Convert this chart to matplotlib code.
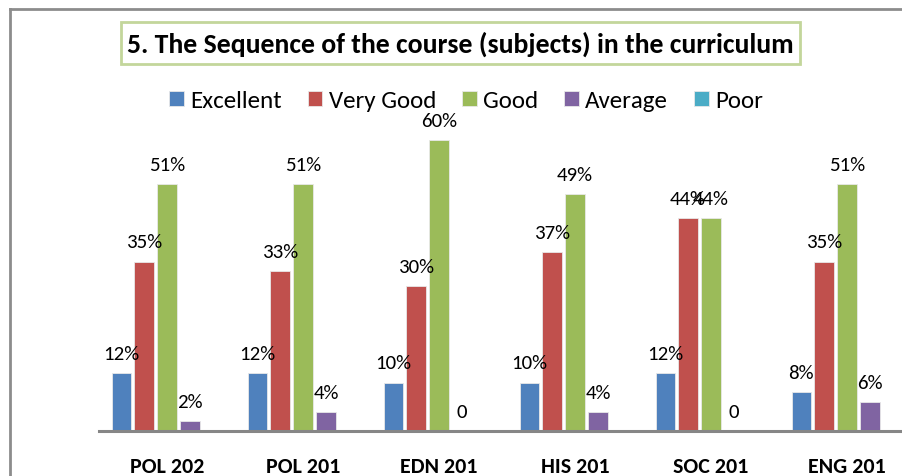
import matplotlib
matplotlib.use("Agg")
import matplotlib.pyplot as plt
from matplotlib.patches import Rectangle
import numpy as np

plt.rcParams['font.family'] = ['Carlito', 'DejaVu Sans']

courses = ["POL 202", "POL 201", "EDN 201", "HIS 201", "SOC 201", "ENG 201"]
series = ["Excellent", "Very Good", "Good", "Average", "Poor"]
excellent = [12, 12, 10, 10, 12, 8]
very_good = [35, 33, 30, 37, 44, 35]
good = [51, 51, 60, 49, 44, 51]
average = [2, 4, 0, 4, 0, 6]
poor = [0, 0, 0, 0, 0, 0]
colors = ["#4f81bd", "#c0504d", "#9bbb59", "#8064a2", "#4bacc6"]

W, H = 903, 477
fig = plt.figure(figsize=(W / 100, H / 100), dpi=100)

# plot area: left at 99 px, runs past the right edge (crop of a wider chart)
ax = fig.add_axes([99 / W, 45 / H, 816 / W, 339 / H])
x = np.arange(len(courses))
pitch = 0.169
width = 0.14
values = [excellent, very_good, good, average, poor]
for i, (name, vals, c) in enumerate(zip(series, values, colors)):
    xs = x + (i - 2) * pitch
    ax.bar(xs, vals, width, color=c, edgecolor="#e8e8e8", linewidth=0.6, label=name)
    if name == "Poor":
        continue
    for xi, v in zip(xs, vals):
        txt = f"{v}%" if v > 0 else "0"
        ax.annotate(txt, (xi, v), xytext=(0, 8), textcoords="offset points",
                    ha="center", va="bottom", fontsize=15, color="black")

ax.set_xlim(-0.5, len(courses) - 0.5)
ax.set_ylim(0, 70)
for s in ["top", "right", "left"]:
    ax.spines[s].set_visible(False)
ax.spines["bottom"].set_color("#868686")
ax.spines["bottom"].set_linewidth(2.2)
ax.set_yticks([])
ax.set_xticks(x)
ax.set_xticklabels(courses, fontweight="bold", fontsize=15.8)
ax.tick_params(axis="x", length=0, pad=18)

# legend
leg = fig.legend(loc="center", bbox_to_anchor=(466 / W, 1 - 102 / H), ncol=5,
                 frameon=False, fontsize=18, handlelength=0.58, handleheight=0.58,
                 handletextpad=0.25, columnspacing=1.05)

# title box
fig.patches.append(Rectangle((121 / W, 1 - 65 / H), 679 / W, 42 / H,
                             transform=fig.transFigure, facecolor="white",
                             edgecolor="#c3d69b", linewidth=2))
fig.text(460.5 / W, 1 - 44 / H, "5. The Sequence of the course (subjects) in the curriculum",
         ha="center", va="center", fontsize=20, fontweight="bold")

# outer chart border (top and left visible)
fig.add_artist(plt.Line2D([10 / W, 10 / W], [0, 1 - 10 / H], transform=fig.transFigure,
                          color="#8c8c8c", linewidth=2))
fig.add_artist(plt.Line2D([10 / W, 1], [1 - 10 / H, 1 - 10 / H], transform=fig.transFigure,
                          color="#8c8c8c", linewidth=2))

fig.savefig("out.png", dpi=100)
